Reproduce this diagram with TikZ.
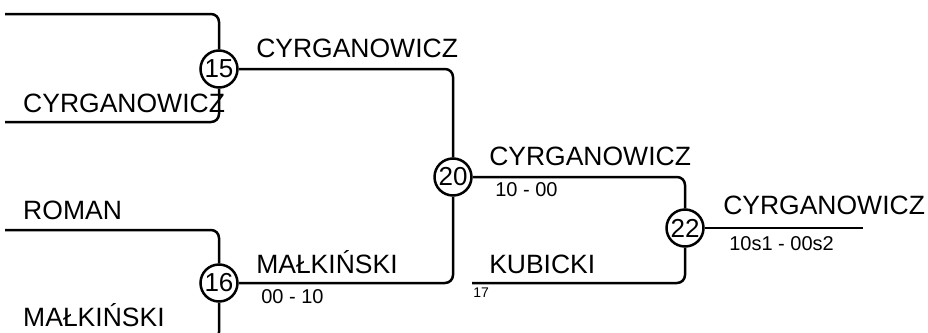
\documentclass[tikz,border=0pt]{standalone}
\usepackage{fontspec}
\setmainfont{Liberation Sans}
\usetikzlibrary{positioning}

\tikzset{
    match/.style={circle, draw, fill=white, inner sep=0pt, minimum size=37pt, font=\fontsize{26}{26}\selectfont},
    player/.style={anchor=base west, inner sep=0pt, font=\fontsize{26.5}{26.5}\selectfont},
    score/.style={anchor=base west, inner sep=0pt, font=\fontsize{20}{20}\selectfont},
    seed/.style={anchor=base west, inner sep=0pt, font=\fontsize{14}{14}\selectfont}
}

\begin{document}
\begin{tikzpicture}[x=1pt, y=-1pt, line width=2.5pt, rounded corners=8pt]
    \useasboundingbox (0,0) rectangle (928,332);

    % matches
    \node[match] (m15) at (219,69) {15};
    \node[match] (m16) at (219,283) {16};
    \node[match] (m20) at (453,177) {20};
    \node[match] (m22) at (685,228) {22};

    % free ends
    \coordinate (p1) at (5,14);
    \coordinate (p2) at (5,122);
    \coordinate (p3) at (5,230);
    \coordinate (p4) at (5,340);
    \coordinate (p5) at (472,283);
    \coordinate (win) at (863,228);

    \draw (p1) -| (m15);
    \draw (p2) -| (m15);
    \draw (p3) -| (m16);
    \draw (p4) -| (m16);
    \draw (m15) -| (m20);
    \draw (m16) -| (m20);
    \draw (m20) -| (m22);
    \draw (p5) -| (m22);
    \draw (m22) -- (win);

    % names
    \node[player] (n1) at (22,112) {CYRGANOWICZ};
    \node[player] (n2) at (22,219) {ROMAN};
    \node[player] (n3) at (22,326) {MAŁKIŃSKI};
    \node[player] (n4) at (255,57) {CYRGANOWICZ};
    \node[player] (n5) at (255,273) {MAŁKIŃSKI};
    \node[player] (n6) at (488,165) {CYRGANOWICZ};
    \node[player] (n7) at (488,273) {KUBICKI};
    \node[player] (n8) at (722,214) {CYRGANOWICZ};

    % scores
    \node[score] (s16) at (260,303) {00 - 10};
    \node[score] (s20) at (494,196) {10 - 00};
    \node[score] (s22) at (728,250) {10s1 - 00s2};
    \node[seed] (k17) at (472,297) {17};
\end{tikzpicture}
\end{document}
